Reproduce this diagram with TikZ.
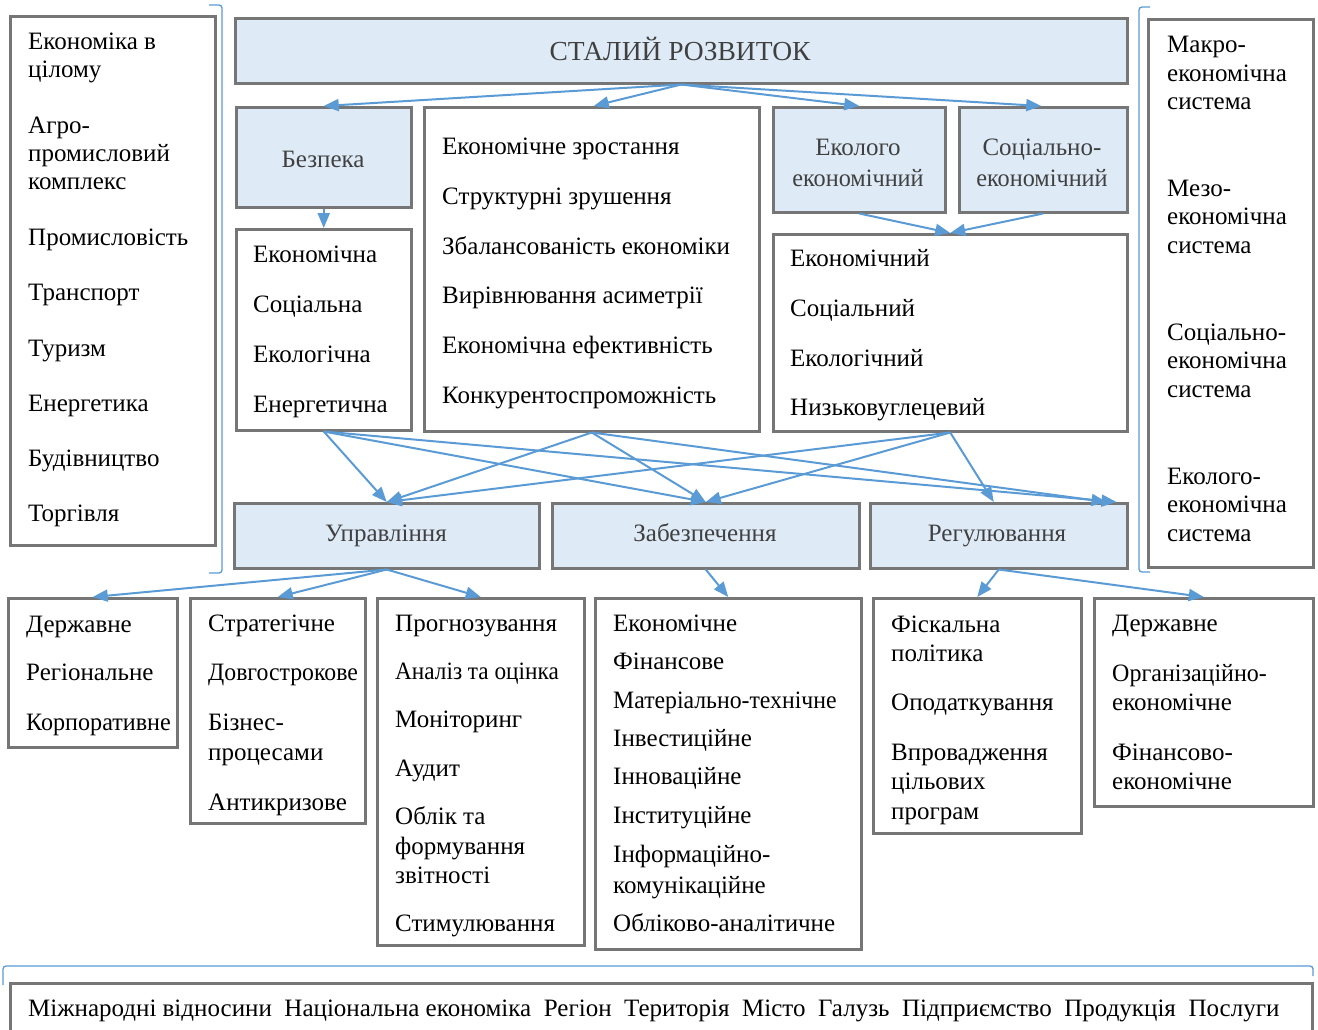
\documentclass[tikz,border=0pt]{standalone}
\usepackage{fontspec}
\usepackage{graphicx}
\setmainfont{Liberation Serif}
\usetikzlibrary{arrows.meta}
\definecolor{bfill}{HTML}{DEEBF7}
\definecolor{bord}{HTML}{767676}
\definecolor{arr}{HTML}{5B9BD5}
\definecolor{gtext}{HTML}{404040}
\newcommand\myfs{\fontsize{25}{29}\selectfont}
\newcommand\cnd[2]{\scalebox{#1}[1]{#2}}
\begin{document}
\begin{tikzpicture}[x=1pt,y=-1pt,
  box/.style={draw=bord, line width=2.5pt, inner sep=0pt, anchor=north west, fill=white},
  bluebox/.style={box, fill=bfill},
  itm/.style={anchor=base west, inner sep=0pt, font=\myfs},
  btxt/.style={anchor=base, inner sep=0pt, font=\myfs, text=gtext},
  con/.style={draw=arr, line width=2pt, -{Triangle[length=15pt,width=12pt]}},
  brk/.style={draw=arr, line width=1.3pt, rounded corners=3pt}]
\useasboundingbox[fill=white] (0,0) rectangle (1318,1029);
% brackets
\draw[brk] (209,5) -- (222,5) -- (222,573) -- (209,573);
\draw[brk] (1150,7) -- (1139,7) -- (1139,572) -- (1150,572);
\draw[brk] (3,985) -- (3,966) -- (1313,966) -- (1313,976);
% boxes
\node[box, minimum width=205pt, minimum height=529pt] (left) at (9,15) {};
\node[box, minimum width=165pt, minimum height=548pt] (right) at (1147,18) {};
\node[bluebox, minimum width=892pt, minimum height=65pt] (sr) at (234,17) {};
\node[bluebox, minimum width=175pt, minimum height=100pt] (bez) at (235,106) {};
\node[box, minimum width=175pt, minimum height=201pt] (bezL) at (235,228) {};
\node[box, minimum width=335pt, minimum height=324pt] (mid) at (423,106) {};
\node[bluebox, minimum width=172pt, minimum height=105pt] (eko) at (772,106) {};
\node[bluebox, minimum width=168pt, minimum height=105pt] (soc) at (958,106) {};
\node[box, minimum width=354pt, minimum height=197pt] (ekoL) at (772,233) {};
\node[bluebox, minimum width=305pt, minimum height=65pt] (upr) at (233,502) {};
\node[bluebox, minimum width=307pt, minimum height=65pt] (zab) at (551,502) {};
\node[bluebox, minimum width=257pt, minimum height=65pt] (reg) at (869,502) {};
\node[box, minimum width=169pt, minimum height=149pt] (b1) at (7,597) {};
\node[box, minimum width=175pt, minimum height=225pt] (b2) at (189,597) {};
\node[box, minimum width=207pt, minimum height=347pt] (b3) at (376,597) {};
\node[box, minimum width=266pt, minimum height=351pt] (b4) at (594,597) {};
\node[box, minimum width=208pt, minimum height=235pt] (b5) at (872,597) {};
\node[box, minimum width=219pt, minimum height=208pt] (b6) at (1093,597) {};
\node[box, minimum width=1302pt, minimum height=70pt] (bot) at (9,982) {};
% texts in blue boxes
\node[btxt, font=\fontsize{27.5}{31}\selectfont] (tsr) at (680,60.5) {СТАЛИЙ РОЗВИТОК};
\node[btxt] (tbez) at (323,167) {Безпека};
\node[btxt] (teko1) at (858,155) {Еколого};
\node[btxt] (teko2) at (858,186) {\cnd{0.97}{економічний}};
\node[btxt] (tsoc1) at (1042,155) {Соціально-};
\node[btxt] (tsoc2) at (1042,186) {\cnd{0.97}{економічний}};
\node[btxt] (tupr) at (386,541) {Управління};
\node[btxt] (tzab) at (705,541) {Забезпечення};
\node[btxt] (treg) at (997,541) {Регулювання};
% texts in white boxes
\foreach \y/\t [count=\i] in {40/Економіка в, 68/цілому, 124/Агро-, 152/промисловий, 180/комплекс, 236/Промисловість, 291/Транспорт, 347/Туризм, 402/Енергетика, 457/Будівництво, 512/Торгівля}
  \node[itm] (L\i) at (28,{\y+9}) {\t};
\foreach \y/\t [count=\i] in {43/Макро-, 72/економічна, 100/система, 187/Мезо-, 215/економічна, 244/система, 331/Соціально-, 359/економічна, 388/система, 475/Еколого-, 503/економічна, 532/система}
  \node[itm] (R\i) at (1167,{\y+9}) {\t};
\foreach \y/\t [count=\i] in {253/Економічна, 303/Соціальна, 353/Екологічна, 403/Енергетична}
  \node[itm] (S\i) at (253,{\y+9}) {\t};
\foreach \y/\t [count=\i] in {145/Економічне зростання, 195/Структурні зрушення, 245/Збалансованість економіки, 294/Вирівнювання асиметрії, 344/Економічна ефективність, 394/Конкурентоспроможність}
  \node[itm] (M\i) at (442,{\y+9}) {\t};
\foreach \y/\t [count=\i] in {257/Економічний, 307/Соціальний, 357/Екологічний, 406/Низьковуглецевий}
  \node[itm] (E\i) at (790,{\y+9}) {\t};
\foreach \y/\t [count=\i] in {623/Державне, 671/Регіональне, 721/\cnd{0.965}{Корпоративне}}
  \node[itm] (P\i) at (26,{\y+9}) {\t};
\foreach \y/\t [count=\i] in {622/Стратегічне, 671/\cnd{0.95}{Довгострокове}, 721/Бізнес-, 751/процесами, 801/Антикризове}
  \node[itm] (Q\i) at (208,{\y+9}) {\t};
\foreach \y/\t [count=\i] in {622/Прогнозування, 670/\cnd{0.93}{Аналіз та оцінка}, 718/Моніторинг, 767/Аудит, 815/Облік та, 845/формування, 874/звітності, 922/Стимулювання}
  \node[itm] (G\i) at (395,{\y+9}) {\t};
\foreach \y/\t [count=\i] in {622/Економічне, 660/Фінансове, 699/\cnd{0.95}{Матеріально-технічне}, 737/Інвестиційне, 775/Інноваційне, 814/Інституційне, 853/Інформаційно-, 884/комунікаційне, 922/Обліково-аналітичне}
  \node[itm] (Z\i) at (613,{\y+9}) {\t};
\foreach \y/\t [count=\i] in {623/Фіскальна, 652/політика, 701/Оподаткування, 751/Впровадження, 780/цільових, 810/програм}
  \node[itm] (F\i) at (891,{\y+9}) {\t};
\foreach \y/\t [count=\i] in {622/Державне, 672/\cnd{0.96}{Організаційно-}, 701/економічне, 751/Фінансово-, 780/економічне}
  \node[itm] (D\i) at (1112,{\y+9}) {\t};
\node[itm] (bt) at (28,1016) {Міжнародні відносини\hspace{12.6pt}Національна економіка\hspace{12.6pt}Регіон\hspace{12.6pt}Територія\hspace{12.6pt}Місто\hspace{12.6pt}Галузь\hspace{12.6pt}Підприємство\hspace{12.6pt}Продукція\hspace{12.6pt}Послуги};
% connectors
\draw[con] (sr.south) -- (bez.north);
\draw[con] (sr.south) -- ([xshift=2pt]mid.north);
\draw[con] (sr.south) -- (eko.north);
\draw[con] (sr.south) -- ([xshift=-2pt]soc.north);
\draw[con] (bez.south) -- (bezL.north);
\draw[con] (eko.south) -- (ekoL.north);
\draw[con] (soc.south) -- (ekoL.north);
\foreach \s in {bezL, mid, ekoL} {
  \draw[con] (\s.south) -- (upr.north);
  \draw[con] (\s.south) -- (zab.north);
}
\draw[con] (bezL.south) -- ([xshift=-12pt]reg.north east);
\draw[con] (mid.south) -- ([xshift=-22pt]reg.north east);
\draw[con] (ekoL.south) -- ([xshift=-5pt]reg.north);
\draw[con] (upr.south) -- (b1.north);
\draw[con] (upr.south) -- (b2.north);
\draw[con] (upr.south) -- (b3.north);
\draw[con] (zab.south) -- (b4.north);
\draw[con] (reg.south) -- (b5.north);
\draw[con] (reg.south) -- (b6.north);
\end{tikzpicture}
\end{document}
